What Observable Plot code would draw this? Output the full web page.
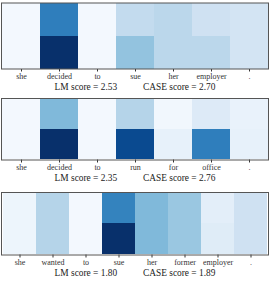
<!DOCTYPE html>
<html>
<head>
<meta charset="utf-8">
<script src="https://cdn.jsdelivr.net/npm/d3@7"></script>
<script src="https://cdn.jsdelivr.net/npm/@observablehq/plot@0.6"></script>
<style>
  html, body { margin: 0; padding: 0; background: #fff; }
  svg { display: block; }
  svg, svg text { font-family: "Liberation Serif", "DejaVu Serif", serif !important; }
</style>
</head>
<body>
<div id="chart"></div>
<script>
// Panel 1
const words1 = ["she", "decided", "to", "sue", "her", "employer", "."];
const lmRow1 = [0.02, 0.70, 0.02, 0.25, 0.28, 0.20, 0.18];
const caseRow1 = [0.02, 1.00, 0.02, 0.40, 0.28, 0.28, 0.18];
const lmScore1 = "2.53";
const caseScore1 = "2.70";

// Panel 2
const words2 = ["she", "decided", "to", "run", "for", "office", "."];
const lmRow2 = [0.02, 0.45, 0.02, 0.30, 0.03, 0.13, 0.07];
const caseRow2 = [0.02, 1.00, 0.02, 0.90, 0.08, 0.70, 0.08];
const lmScore2 = "2.35";
const caseScore2 = "2.76";

// Panel 3
const words3 = ["she", "wanted", "to", "sue", "her", "former", "employer", "."];
const lmRow3 = [0.05, 0.30, 0.02, 0.68, 0.45, 0.38, 0.10, 0.20];
const caseRow3 = [0.05, 0.30, 0.02, 1.00, 0.45, 0.38, 0.12, 0.20];
const lmScore3 = "1.80";
const caseScore3 = "1.89";

const panels = [
  {words: words1, lm: lmRow1, cs: caseRow1, lmS: lmScore1, csS: caseScore1, height: 95, top: 2.5, bottom: 26.5},
  {words: words2, lm: lmRow2, cs: caseRow2, lmS: lmScore2, csS: caseScore2, height: 95, top: 3, bottom: 30.5},
  {words: words3, lm: lmRow3, cs: caseRow3, lmS: lmScore3, csS: caseScore3, height: 96, top: 2, bottom: 31.5}
];

const container = document.getElementById("chart");

for (const p of panels) {
  const cells = [];
  p.words.forEach((w, i) => {
    cells.push({col: i, row: "lm", value: p.lm[i]});
    cells.push({col: i, row: "case", value: p.cs[i]});
  });
  const idx = p.words.map((_, i) => i);
  const scoreText = "LM score = " + p.lmS + "\u00a0".repeat(11) + "CASE score = " + p.csS;
  const chart = Plot.plot({
    width: 269,
    height: p.height,
    marginLeft: 1,
    marginRight: 1,
    marginTop: p.top,
    marginBottom: p.bottom,
    style: {fontSize: "8px", color: "#333", background: "#fff"},
    x: {type: "band", domain: idx, padding: 0, tickFormat: (i) => p.words[i], tickSize: 3, tickPadding: 1.5, label: null},
    y: {type: "band", domain: ["lm", "case"], padding: 0, axis: null},
    color: {type: "linear", scheme: "blues", domain: [0, 1]},
    marks: [
      Plot.cell(cells, {x: "col", y: "row", fill: "value", inset: 0}),
      Plot.frame({stroke: "#555", strokeWidth: 1}),
      Plot.text([scoreText], {frameAnchor: "bottom", dy: 18, text: (d) => d, fontSize: 9.4, fill: "#222", lineAnchor: "middle"})
    ]
  });
  container.appendChild(chart);
}
</script>
</body>
</html>
